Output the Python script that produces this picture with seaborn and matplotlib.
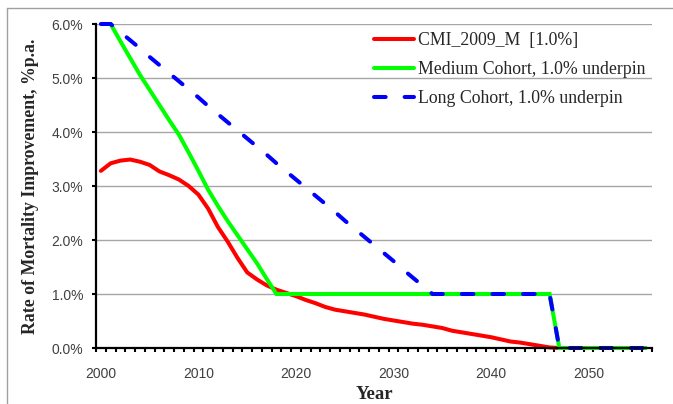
import numpy as np
import pandas as pd
import matplotlib
matplotlib.use("Agg")
import matplotlib.pyplot as plt
import seaborn as sns
from matplotlib.lines import Line2D

sns.set_style("white")
plt.rcParams['font.family'] = ['Liberation Serif', 'DejaVu Serif']

# ---- data -------------------------------------------------------------
years_cmi = list(range(2000, 2048))
cmi = [3.28, 3.42, 3.47, 3.49, 3.45, 3.39, 3.27, 3.20, 3.12, 3.00,
       2.84, 2.58, 2.24, 1.97, 1.67, 1.40, 1.27, 1.16, 1.08, 1.02,
       0.96, 0.89, 0.83, 0.76, 0.71, 0.68, 0.65, 0.62, 0.58, 0.54,
       0.51, 0.48, 0.45, 0.43, 0.40, 0.37, 0.32, 0.29, 0.26, 0.23,
       0.20, 0.16, 0.12, 0.10, 0.07, 0.04, 0.01, 0.00]

years = list(range(2000, 2057))
medium = [6.00, 6.00, 5.68, 5.37, 5.06, 4.78, 4.50, 4.22, 3.95, 3.62,
          3.28, 2.93, 2.63, 2.35, 2.09, 1.83, 1.57, 1.28, 1.00, 1.00,
          1.00, 1.00, 1.00, 1.00, 1.00, 1.00, 1.00, 1.00, 1.00, 1.00,
          1.00, 1.00, 1.00, 1.00, 1.00, 1.00, 1.00, 1.00, 1.00, 1.00,
          1.00, 1.00, 1.00, 1.00, 1.00, 1.00, 1.00, 0.00, 0.00, 0.00,
          0.00, 0.00, 0.00, 0.00, 0.00, 0.00, 0.00]
long_ = [6.00, 6.00, 5.85, 5.70, 5.55, 5.39, 5.24, 5.09, 4.94, 4.79,
         4.64, 4.48, 4.33, 4.18, 4.03, 3.88, 3.73, 3.58, 3.42, 3.27,
         3.12, 2.97, 2.82, 2.67, 2.52, 2.36, 2.21, 2.06, 1.91, 1.76,
         1.61, 1.45, 1.30, 1.15, 1.00, 1.00, 1.00, 1.00, 1.00, 1.00,
         1.00, 1.00, 1.00, 1.00, 1.00, 1.00, 1.00, 0.00, 0.00, 0.00,
         0.00, 0.00, 0.00, 0.00, 0.00, 0.00, 0.00]

labels = ["CMI_2009_M  [1.0%]", "Medium Cohort, 1.0% underpin",
          "Long Cohort, 1.0% underpin"]
colors = ["#FF0000", "#00FF00", "#0000FF"]
y_ticks = [0, 1, 2, 3, 4, 5, 6]
x_ticks = [2000, 2010, 2020, 2030, 2040, 2050]

df_cmi = pd.DataFrame({"Year": years_cmi, "Rate": cmi})
df_med = pd.DataFrame({"Year": years, "Rate": medium})
df_long = pd.DataFrame({"Year": years, "Rate": long_})

# ---- figure -----------------------------------------------------------
W, H = 673, 404
fig = plt.figure(figsize=(W / 100, H / 100), dpi=100)
ax = fig.add_axes([96 / W, 1 - 348 / H, (652 - 96) / W, (348 - 24) / H])

lw = 2.9
dash = (2.9, 4.7)
sns.lineplot(data=df_cmi, x="Year", y="Rate", ax=ax, color=colors[0],
             linewidth=lw, solid_capstyle="round", solid_joinstyle="round",
             clip_on=False, zorder=3)
sns.lineplot(data=df_med, x="Year", y="Rate", ax=ax, color=colors[1],
             linewidth=lw, solid_capstyle="butt", solid_joinstyle="miter",
             clip_on=False, zorder=4)
sns.lineplot(data=df_long, x="Year", y="Rate", ax=ax, color=colors[2],
             linewidth=lw, clip_on=False, zorder=5)
blue_line = ax.get_lines()[-1]
blue_line.set_dashes(dash)
blue_line.set_dash_capstyle("round")

ax.set_xlim(1999.5, 2056.5)
ax.set_ylim(0, 6)

ax.set_yticks(y_ticks)
ax.set_yticklabels([f"{v:.1f}%" for v in y_ticks])
ax.set_xticks(x_ticks)
ax.set_xticklabels([str(v) for v in x_ticks])
ax.set_xticks(np.arange(1999.5, 2057.0, 1.0), minor=True)

for t in ax.get_xticklabels() + ax.get_yticklabels():
    t.set_fontfamily(["Liberation Sans", "DejaVu Sans"])
    t.set_fontsize(10)
    t.set_color("#404040")

ax.tick_params(axis="x", which="major", length=0, pad=14)
ax.tick_params(axis="x", which="minor", length=3.2, width=1.5,
               direction="out", color="black", bottom=True)
ax.tick_params(axis="y", which="major", length=3.2, width=1.5,
               direction="out", color="black", left=True, pad=6)

ax.grid(axis="y", color="#A6A6A6", linewidth=1.0, zorder=0)
ax.grid(axis="x", visible=False)
ax.set_axisbelow(True)

for s in ["top", "right"]:
    ax.spines[s].set_visible(False)
for s in ["left", "bottom"]:
    ax.spines[s].set_visible(True)
    ax.spines[s].set_color("black")
    ax.spines[s].set_linewidth(1.6)
    ax.spines[s].set_zorder(6)

ax.set_xlabel("Year", fontsize=13.5, fontweight="bold", labelpad=3)
ax.set_ylabel("Rate of Mortality Improvement, %p.a.", fontsize=12.8,
              fontweight="bold", labelpad=9)

handles = [
    Line2D([], [], color=colors[0], linewidth=lw, solid_capstyle="round"),
    Line2D([], [], color=colors[1], linewidth=lw, solid_capstyle="round"),
    Line2D([], [], color=colors[2], linewidth=lw, dashes=dash,
           dash_capstyle="round"),
]
leg = ax.legend(handles, labels, loc="upper left",
                bbox_to_anchor=(374 / W, 1 - 32 / H),
                bbox_transform=fig.transFigure, frameon=False, fontsize=12.8,
                handlelength=2.25, handletextpad=0.2, labelspacing=0.68,
                borderpad=0, borderaxespad=0)

# chart-area border (left and top visible in reference)
fig.add_artist(Line2D([7 / W, 7 / W], [0, 1 - 8 / H], transform=fig.transFigure,
                      color="#A0A0A0", linewidth=1.0))
fig.add_artist(Line2D([7 / W, 1], [1 - 8 / H, 1 - 8 / H], transform=fig.transFigure,
                      color="#A0A0A0", linewidth=1.0))

fig.savefig("out.png", dpi=100)
